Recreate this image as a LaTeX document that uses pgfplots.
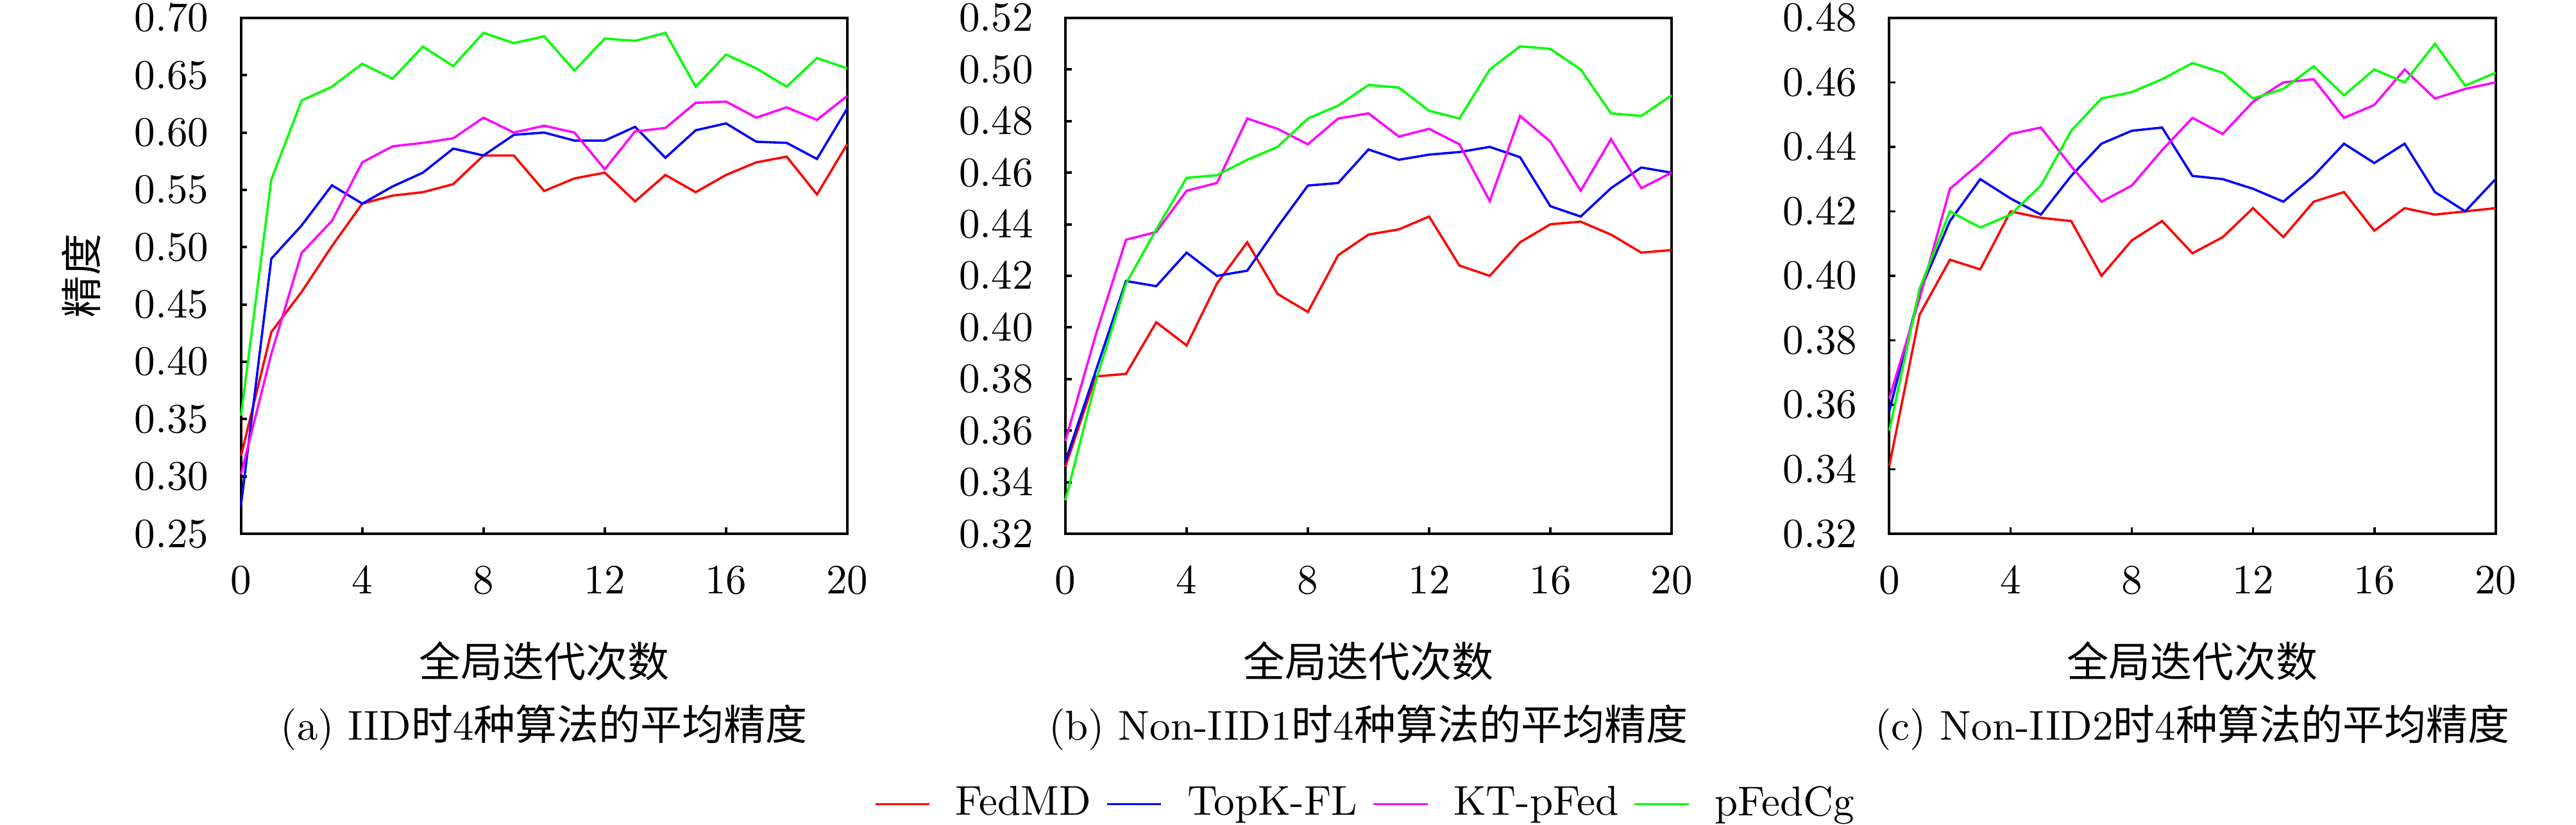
\documentclass[border=0pt]{standalone}
\usepackage{fontspec}
\newfontfamily\cjk{Noto Sans CJK SC}
\usepackage{pgfplots}
\usepackage{pgfplotstable}
\pgfplotsset{compat=1.18}
\definecolor{cRed}{RGB}{255,0,0}
\definecolor{cBlue}{RGB}{0,0,255}
\definecolor{cMag}{RGB}{255,0,255}
\definecolor{cGreen}{RGB}{0,255,0}

\pgfplotstableread{
x fedmd topk kt pfedcg
0 0.318 0.275 0.302 0.353
1 0.426 0.490 0.407 0.559
2 0.461 0.519 0.495 0.628
3 0.501 0.554 0.523 0.640
4 0.538 0.538 0.574 0.660
5 0.545 0.553 0.588 0.647
6 0.548 0.565 0.591 0.675
7 0.555 0.586 0.595 0.658
8 0.580 0.580 0.613 0.687
9 0.580 0.598 0.600 0.678
10 0.549 0.600 0.606 0.684
11 0.560 0.593 0.600 0.654
12 0.565 0.593 0.568 0.682
13 0.540 0.605 0.601 0.680
14 0.563 0.578 0.604 0.687
15 0.548 0.602 0.626 0.640
16 0.563 0.608 0.627 0.668
17 0.574 0.592 0.613 0.656
18 0.579 0.591 0.622 0.640
19 0.546 0.577 0.611 0.665
20 0.590 0.621 0.632 0.656
}\tabA

\pgfplotstableread{
x fedmd topk kt pfedcg
0 0.346 0.348 0.356 0.333
1 0.381 0.383 0.397 0.379
2 0.382 0.418 0.434 0.417
3 0.402 0.416 0.437 0.438
4 0.393 0.429 0.453 0.458
5 0.417 0.420 0.456 0.459
6 0.433 0.422 0.481 0.465
7 0.413 0.439 0.477 0.470
8 0.406 0.455 0.471 0.481
9 0.428 0.456 0.481 0.486
10 0.436 0.469 0.483 0.494
11 0.438 0.465 0.474 0.493
12 0.443 0.467 0.477 0.484
13 0.424 0.468 0.471 0.481
14 0.420 0.470 0.449 0.500
15 0.433 0.466 0.482 0.509
16 0.440 0.447 0.472 0.508
17 0.441 0.443 0.453 0.500
18 0.436 0.454 0.473 0.483
19 0.429 0.462 0.454 0.482
20 0.430 0.460 0.460 0.490
}\tabB

\pgfplotstableread{
x fedmd topk kt pfedcg
0 0.341 0.358 0.362 0.352
1 0.388 0.395 0.393 0.396
2 0.405 0.417 0.427 0.420
3 0.402 0.430 0.435 0.415
4 0.420 0.424 0.444 0.419
5 0.418 0.419 0.446 0.428
6 0.417 0.431 0.434 0.445
7 0.400 0.441 0.423 0.455
8 0.411 0.445 0.428 0.457
9 0.417 0.446 0.439 0.461
10 0.407 0.431 0.449 0.466
11 0.412 0.430 0.444 0.463
12 0.421 0.427 0.454 0.455
13 0.412 0.423 0.460 0.458
14 0.423 0.431 0.461 0.465
15 0.426 0.441 0.449 0.456
16 0.414 0.435 0.453 0.464
17 0.421 0.441 0.464 0.460
18 0.419 0.426 0.455 0.472
19 0.420 0.420 0.458 0.459
20 0.421 0.430 0.460 0.463
}\tabC

\pgfplotsset{
  mystyle/.style={
    scale only axis,
    width=145.4pt, height=123.7pt,
    anchor=south west,
    xmin=0, xmax=20,
    xtick={0,4,8,12,16,20},
    tick pos=left,
    tick align=inside,
    major tick length=1.5pt,
    axis line style={line width=0.6pt},
    every tick/.style={line width=0.6pt, black},
    xticklabel style={yshift=-4.4pt},
    yticklabel style={xshift=-4.2pt, /pgf/number format/.cd, fixed, fixed zerofill, precision=2},
    xlabel={\cjk 全局迭代次数},
    xlabel style={at={(axis description cs:0.5,0)}, anchor=center, yshift=-30.5pt},
    title style={at={(axis description cs:0.5,0)}, anchor=center, yshift=-52.5pt},
    clip=false,
    every axis plot/.append style={line width=0.55pt},
    legend image code/.code={\draw[#1] (0pt,0pt) -- (13pt,0pt);},
  }
}

\begin{document}
\begin{tikzpicture}
\path[use as bounding box] (0,0) rectangle (617.8pt,197.8pt);

\begin{axis}[mystyle, at={(57.8pt,69.8pt)},
  ymin=0.25, ymax=0.70,
  ytick={0.25,0.30,0.35,0.40,0.45,0.50,0.55,0.60,0.65,0.70},
  ylabel={\cjk 精度},
  ylabel style={at={(axis description cs:-0.2634,0.5)}, anchor=center},
  title={(a) IID{\cjk 时}4{\cjk 种算法的平均精度}}]
\addplot[cRed] table[x=x,y=fedmd]{\tabA};
\addplot[cBlue] table[x=x,y=topk]{\tabA};
\addplot[cMag] table[x=x,y=kt]{\tabA};
\addplot[cGreen] table[x=x,y=pfedcg]{\tabA};
\end{axis}

\begin{axis}[mystyle, at={(255.5pt,69.8pt)},
  ymin=0.32, ymax=0.52,
  ytick={0.32,0.34,0.36,0.38,0.40,0.42,0.44,0.46,0.48,0.50,0.52},
  title={(b) Non-IID1{\cjk 时}4{\cjk 种算法的平均精度}},
  legend columns=4,
  legend style={at={(axis description cs:0.5,0)}, anchor=center, yshift=-64.8pt,
    draw=none, fill=none,
    /tikz/every odd column/.append style={column sep=4pt},
    /tikz/every even column/.append style={column sep=1.5pt}}]
\addplot[cRed] table[x=x,y=fedmd]{\tabB};
\addlegendentry{FedMD}
\addplot[cBlue] table[x=x,y=topk]{\tabB};
\addlegendentry{TopK-FL}
\addplot[cMag] table[x=x,y=kt]{\tabB};
\addlegendentry{KT-pFed}
\addplot[cGreen] table[x=x,y=pfedcg]{\tabB};
\addlegendentry{pFedCg}
\end{axis}

\begin{axis}[mystyle, at={(453.1pt,69.8pt)},
  ymin=0.32, ymax=0.48,
  ytick={0.32,0.34,0.36,0.38,0.40,0.42,0.44,0.46,0.48},
  title={(c) Non-IID2{\cjk 时}4{\cjk 种算法的平均精度}}]
\addplot[cRed] table[x=x,y=fedmd]{\tabC};
\addplot[cBlue] table[x=x,y=topk]{\tabC};
\addplot[cMag] table[x=x,y=kt]{\tabC};
\addplot[cGreen] table[x=x,y=pfedcg]{\tabC};
\end{axis}
\end{tikzpicture}
\end{document}
